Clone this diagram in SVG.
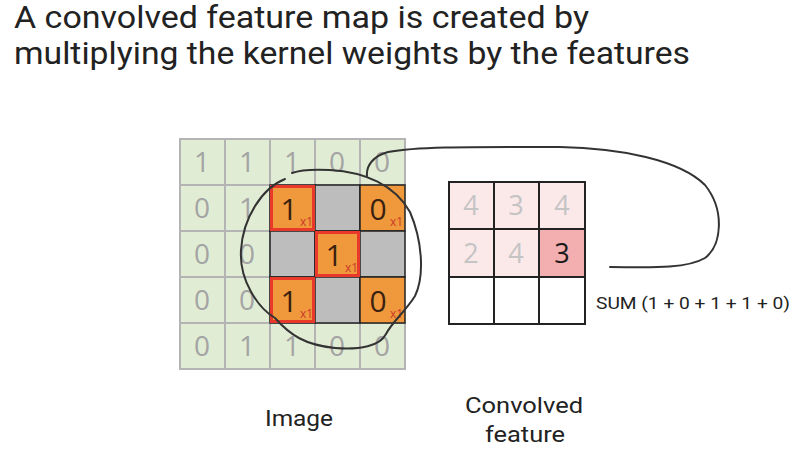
<svg xmlns="http://www.w3.org/2000/svg" width="807" height="473" viewBox="0 0 807 473">
<style>
.title{font-family:Roboto,"Open Sans",sans-serif;font-size:31px;fill:#222}
.lbl{font-family:Roboto,"Open Sans",sans-serif;font-size:22px;fill:#222}
.g{fill:#e0edd4;stroke:#b4b4b4;stroke-width:2}
.gd{font-family:"Open Sans",Roboto,sans-serif;font-size:28px;fill:#a4a4a4;text-anchor:middle}
.or{fill:#f0983c;stroke:#222;stroke-width:1.5}
.gr{fill:#bdbdbd;stroke:#222;stroke-width:1.5}
.red{fill:none;stroke:#e8392a;stroke-width:3}
.kd{font-family:"Open Sans",Roboto,sans-serif;font-size:30px;fill:#3a2210;text-anchor:middle}
.sub{font-family:"Open Sans",Roboto,sans-serif;font-size:12px;fill:#c83a2a}
.pk{fill:#fbe9e9;stroke:#222;stroke-width:2}
.pk2{fill:#f3afaf;stroke:#222;stroke-width:2}
.wh{fill:#fff;stroke:#222;stroke-width:2}
.cd{font-family:"Open Sans",Roboto,sans-serif;font-size:27px;fill:#c4c4c4;text-anchor:middle}
.ink{fill:none;stroke:#333;stroke-width:2;stroke-linecap:round}
</style>
<rect width="807" height="473" fill="#fff"/>
<g id="title">
<text class="title" x="14" y="28" textLength="575" lengthAdjust="spacingAndGlyphs">A convolved feature map is created by</text>
<text class="title" x="14" y="64" textLength="676" lengthAdjust="spacingAndGlyphs">multiplying the kernel weights by the features</text>
</g>
<g id="image-grid">
<rect class="g" x="180" y="139" width="45" height="46"/><rect class="g" x="225" y="139" width="45" height="46"/><rect class="g" x="270" y="139" width="45" height="46"/><rect class="g" x="315" y="139" width="45" height="46"/><rect class="g" x="360" y="139" width="45" height="46"/>
<rect class="g" x="180" y="185" width="45" height="46"/><rect class="g" x="225" y="185" width="45" height="46"/>
<rect class="g" x="180" y="231" width="45" height="46"/><rect class="g" x="225" y="231" width="45" height="46"/>
<rect class="g" x="180" y="277" width="45" height="46"/><rect class="g" x="225" y="277" width="45" height="46"/>
<rect class="g" x="180" y="323" width="45" height="46"/><rect class="g" x="225" y="323" width="45" height="46"/><rect class="g" x="270" y="323" width="45" height="46"/><rect class="g" x="315" y="323" width="45" height="46"/><rect class="g" x="360" y="323" width="45" height="46"/>
<text class="gd" x="202" y="172">1</text><text class="gd" x="247" y="172">1</text><text class="gd" x="292" y="172">1</text><text class="gd" x="337" y="172">0</text><text class="gd" x="382" y="172">0</text>
<text class="gd" x="202" y="218">0</text><text class="gd" x="247" y="218">1</text>
<text class="gd" x="202" y="264">0</text><text class="gd" x="247" y="264">0</text>
<text class="gd" x="202" y="310">0</text><text class="gd" x="247" y="310">0</text>
<text class="gd" x="202" y="356">0</text><text class="gd" x="247" y="356">1</text><text class="gd" x="292" y="356">1</text><text class="gd" x="337" y="356">0</text><text class="gd" x="382" y="356">0</text>
</g>
<g id="kernel">
<rect class="or" x="270" y="185" width="45" height="46"/><rect class="gr" x="315" y="185" width="45" height="46"/><rect class="or" x="360" y="185" width="45" height="46"/>
<rect class="gr" x="270" y="231" width="45" height="46"/><rect class="or" x="315" y="231" width="45" height="46"/><rect class="gr" x="360" y="231" width="45" height="46"/>
<rect class="or" x="270" y="277" width="45" height="46"/><rect class="gr" x="315" y="277" width="45" height="46"/><rect class="or" x="360" y="277" width="45" height="46"/>
<rect class="red" x="271.5" y="186.5" width="42" height="43"/>
<rect class="red" x="316.5" y="232.5" width="42" height="43"/>
<rect class="red" x="271.5" y="278.5" width="42" height="43"/>
<text class="kd" x="289" y="220">1</text><text class="sub" x="300" y="226">x1</text>
<text class="kd" x="378" y="220">0</text><text class="sub" x="390" y="226">x1</text>
<text class="kd" x="334" y="266">1</text><text class="sub" x="345" y="272">x1</text>
<text class="kd" x="289" y="312">1</text><text class="sub" x="300" y="318">x1</text>
<text class="kd" x="378" y="312">0</text><text class="sub" x="390" y="318">x1</text>
</g>
<g id="convolved-grid">
<rect class="pk" x="449" y="182" width="45" height="47"/><rect class="pk" x="494" y="182" width="45" height="47"/><rect class="pk" x="539" y="182" width="46" height="47"/>
<rect class="pk" x="449" y="229" width="45" height="48"/><rect class="pk" x="494" y="229" width="45" height="48"/><rect class="pk2" x="539" y="229" width="46" height="48"/>
<rect class="wh" x="449" y="277" width="45" height="47"/><rect class="wh" x="494" y="277" width="45" height="47"/><rect class="wh" x="539" y="277" width="46" height="47"/>
<text class="cd" x="471" y="215">4</text><text class="cd" x="516" y="215">3</text><text class="cd" x="562" y="215">4</text>
<text class="cd" x="471" y="263">2</text><text class="cd" x="516" y="263">4</text><text class="cd" x="562" y="263" style="fill:#1a1a1a">3</text>
</g>
<g id="labels">
<text class="lbl" x="596" y="309" style="font-size:17px" textLength="194" lengthAdjust="spacingAndGlyphs">SUM (1 + 0 + 1 + 1 + 0)</text>
<text class="lbl" x="265" y="426" textLength="68" lengthAdjust="spacingAndGlyphs">Image</text>
<text class="lbl" x="465" y="413" textLength="118" lengthAdjust="spacingAndGlyphs">Convolved</text>
<text class="lbl" x="485" y="442" textLength="80" lengthAdjust="spacingAndGlyphs">feature</text>
</g>
<g id="connectors">
<path class="ink" d="M285,179 C262,188 243,218 241,250 C239,280 258,308 275,318 C290,335 305,345 335,348 C360,350 380,346 386,334 C392,322 405,312 415,296 C425,275 422,240 410,212 C395,185 365,172 330,170 C312,169 300,170 292,173"/>
<path class="ink" d="M367,176 C366,166 373,156 388,152 C420,146 480,147 560,147 C620,148 680,160 705,185 C725,210 722,245 705,258 C685,270 640,267 610,267"/>
</g>
</svg>
